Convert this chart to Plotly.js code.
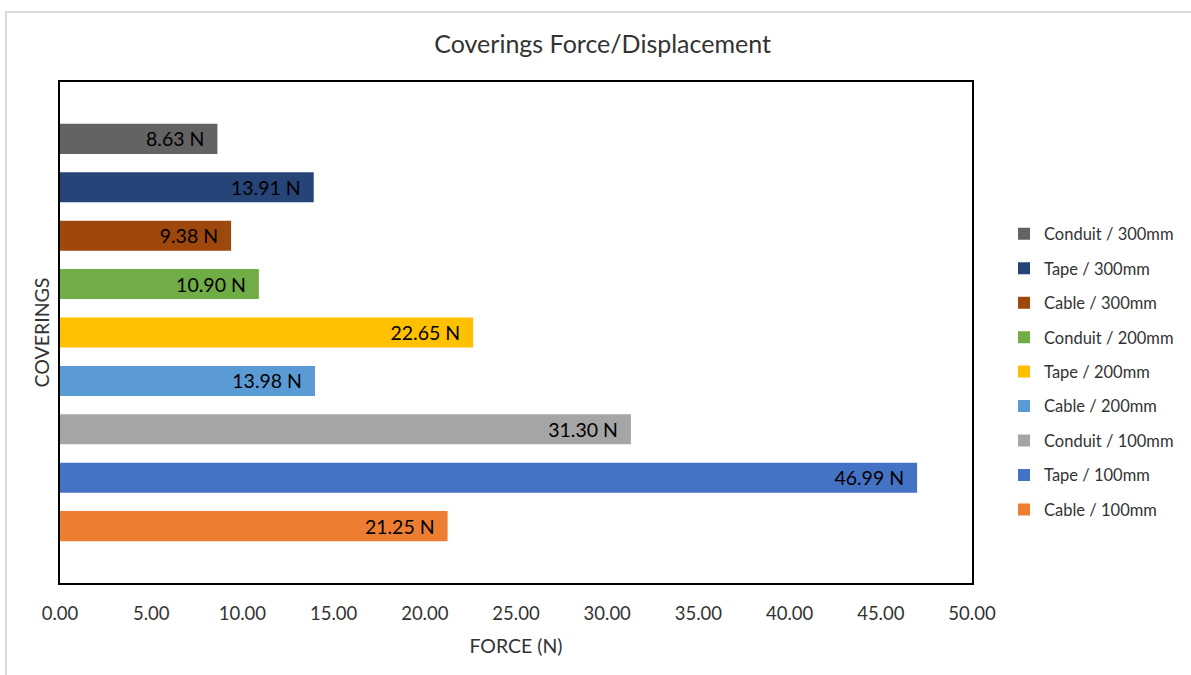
<!DOCTYPE html>
<html>
<head>
<meta charset="utf-8">
<script src="https://cdn.plot.ly/plotly-3.0.1.min.js"></script>
<style>
  html, body { margin: 0; padding: 0; background: #fff; }
  #wrap { position: relative; width: 1191px; height: 675px; overflow: hidden; }
  #frame { position: absolute; left: 5px; top: 11px; width: 1200px; height: 700px; border: 2px solid #d9d9d9; box-sizing: border-box; pointer-events: none; }
  #chart { position: absolute; left: 0; top: 0; width: 1191px; height: 675px; }
</style>
</head>
<body>
<div id="wrap">
  <div id="chart"></div>
  <div id="frame"></div>
</div>
<script>
// Series, listed bottom bar first
const seriesNames = [
  "Cable / 100mm", "Tape / 100mm", "Conduit / 100mm",
  "Cable / 200mm", "Tape / 200mm", "Conduit / 200mm",
  "Cable / 300mm", "Tape / 300mm", "Conduit / 300mm"
];
const forceValues = [21.25, 46.99, 31.30, 13.98, 22.65, 10.90, 9.38, 13.91, 8.63];
const seriesColors = [
  "#ED7D31", "#4472C4", "#A5A5A5",
  "#5B9BD5", "#FFC000", "#70AD47",
  "#9E480E", "#264478", "#636363"
];
const xTicks = [0, 5, 10, 15, 20, 25, 30, 35, 40, 45, 50];

const FONT = "Lato, 'Open Sans', sans-serif";
const TXT = "#333333";

// add traces top bar first so the legend lists Conduit / 300mm first
const order = seriesNames.map((_, i) => i).reverse();
const traces = order.map(i => ({
  type: "bar",
  orientation: "h",
  name: seriesNames[i],
  x: [forceValues[i]],
  y: [seriesNames[i]],
  width: 0.62,
  marker: { color: seriesColors[i], line: { width: 0 } },
  texttemplate: "%{x:.2f} N\u00a0\u00a0",
  textposition: "inside",
  insidetextanchor: "end",
  textangle: 0,
  constraintext: "none",
  textfont: { family: FONT, size: 19.5, color: "#000000" },
  legendgroup: "g" + i,
  hoverinfo: "skip"
}));

const layout = {
  width: 1191,
  height: 675,
  paper_bgcolor: "rgba(0,0,0,0)",
  plot_bgcolor: "#ffffff",
  margin: { l: 60, r: 219, t: 82, b: 92 },
  font: { family: FONT, color: TXT },
  title: {
    text: "Coverings Force/Displacement",
    font: { family: FONT, size: 25, color: TXT },
    x: 0.506, xref: "container", xanchor: "center",
    y: 0.935, yref: "container", yanchor: "middle"
  },
  barmode: "overlay",
  showlegend: true,
  legend: {
    traceorder: "grouped",
    tracegroupgap: 10,
    itemwidth: 30,
    xref: "container",
    x: 0.843, xanchor: "left",
    y: 0.421, yanchor: "middle",
    font: { family: FONT, size: 16.5, color: TXT },
    bgcolor: "rgba(0,0,0,0)",
    itemclick: false
  },
  xaxis: {
    range: [0, 50],
    tickvals: xTicks,
    tickformat: ".2f",
    showgrid: false,
    zeroline: false,
    showline: true,
    mirror: true,
    linecolor: "#000000",
    linewidth: 2,
    ticks: "",
    ticklabelstandoff: 13,
    tickfont: { family: FONT, size: 18.5, color: TXT },
    title: { text: "FORCE (N)", font: { family: FONT, size: 19.5, color: TXT }, standoff: 16 },
    fixedrange: true
  },
  yaxis: {
    type: "category",
    categoryorder: "array",
    categoryarray: seriesNames,
    range: [-1.175, 9.175],
    showticklabels: false,
    ticks: "",
    showgrid: false,
    zeroline: false,
    showline: true,
    mirror: true,
    linecolor: "#000000",
    linewidth: 2,
    title: { text: "COVERINGS", font: { family: FONT, size: 19.5, color: TXT }, standoff: 3 },
    fixedrange: true
  }
};

Plotly.newPlot("chart", traces, layout, { displayModeBar: false, staticPlot: true });
</script>
</body>
</html>
